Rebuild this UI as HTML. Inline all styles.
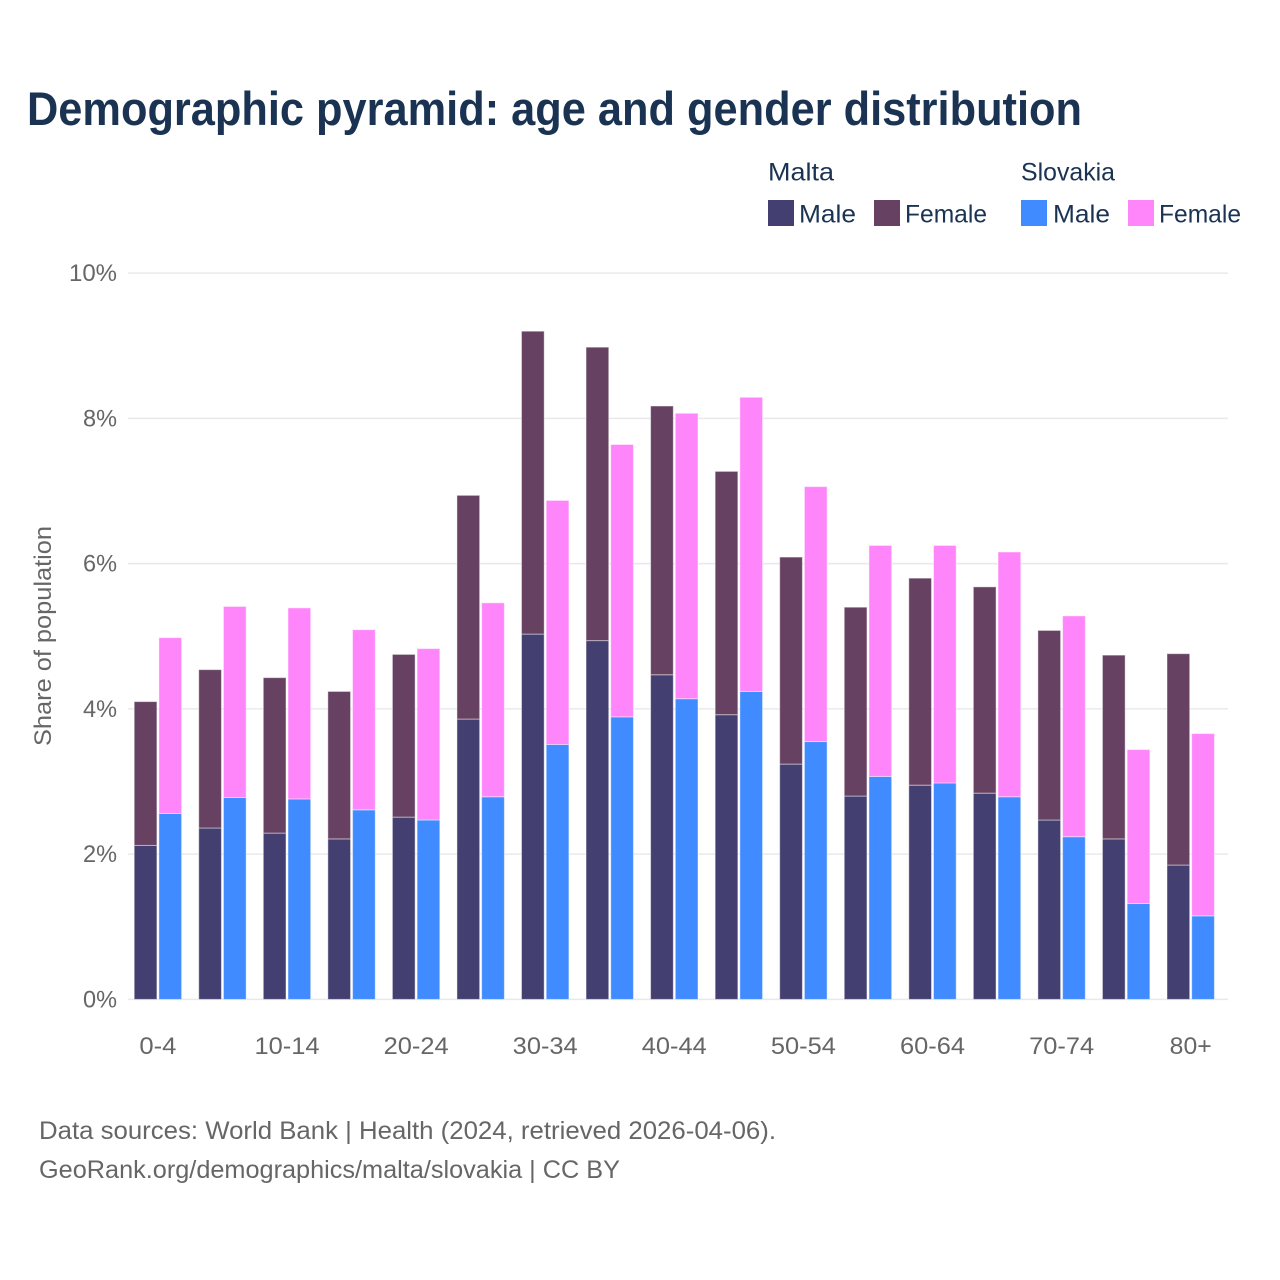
<!DOCTYPE html>
<html lang="en">
<head>
<meta charset="utf-8">
<title>Demographic pyramid: age and gender distribution</title>
<style>
html,body{margin:0;padding:0;background:#fff;}
svg{display:block;font-family:"Liberation Sans",sans-serif;}
</style>
</head>
<body>
<svg id="chart" xmlns="http://www.w3.org/2000/svg" width="1280" height="1280" viewBox="0 0 1280 1280">
  <rect width="1280" height="1280" fill="#ffffff"/>
  <text x="27" y="125" font-size="47" font-weight="700" fill="#1a3352" textLength="1055" lengthAdjust="spacingAndGlyphs">Demographic pyramid: age and gender distribution</text>

  <g font-size="25" fill="#1a3352">
    <text x="768" y="180.5" textLength="66" lengthAdjust="spacingAndGlyphs">Malta</text>
    <text x="1021" y="180.5" textLength="94" lengthAdjust="spacingAndGlyphs">Slovakia</text>
    <rect x="768" y="200" width="26" height="26" fill="#433f70"/>
    <text x="799" y="222.5" textLength="57" lengthAdjust="spacingAndGlyphs">Male</text>
    <rect x="874" y="200" width="26" height="26" fill="#674161"/>
    <text x="905" y="222.5" textLength="82" lengthAdjust="spacingAndGlyphs">Female</text>
    <rect x="1021" y="200" width="26" height="26" fill="#408bff"/>
    <text x="1053" y="222.5" textLength="57" lengthAdjust="spacingAndGlyphs">Male</text>
    <rect x="1128" y="200" width="26" height="26" fill="#ff85fa"/>
    <text x="1159" y="222.5" textLength="82" lengthAdjust="spacingAndGlyphs">Female</text>
  </g>

  <g id="grid"></g>
  <g id="yticks"></g>
  <g id="bars"></g>
  <g id="xticks"></g>

  <text transform="translate(51,746) rotate(-90)" x="0" y="0" font-size="24" fill="#666666" textLength="220" lengthAdjust="spacingAndGlyphs">Share of population</text>

  <text x="39" y="1139" font-size="25" fill="#666666" textLength="737" lengthAdjust="spacingAndGlyphs">Data sources: World Bank | Health (2024, retrieved 2026-04-06).</text>
  <text x="39" y="1178" font-size="25" fill="#666666" textLength="581" lengthAdjust="spacingAndGlyphs">GeoRank.org/demographics/malta/slovakia | CC BY</text>
</svg>
<script>
const categories = ["0-4","5-9","10-14","15-19","20-24","25-29","30-34","35-39","40-44","45-49","50-54","55-59","60-64","65-69","70-74","75-79","80+"];
const xTickLabels = ["0-4","10-14","20-24","30-34","40-44","50-54","60-64","70-74","80+"];
const yTickValues = [0,2,4,6,8,10];
const maltaMale = [2.12,2.36,2.29,2.21,2.51,3.86,5.03,4.94,4.47,3.92,3.24,2.80,2.95,2.84,2.47,2.21,1.85];
const maltaFemale = [1.98,2.18,2.14,2.03,2.24,3.08,4.17,4.04,3.70,3.35,2.85,2.60,2.85,2.84,2.61,2.53,2.91];
const slovakiaMale = [2.56,2.78,2.76,2.61,2.47,2.79,3.51,3.89,4.14,4.24,3.55,3.07,2.98,2.79,2.24,1.32,1.15];
const slovakiaFemale = [2.42,2.63,2.63,2.48,2.36,2.67,3.36,3.75,3.93,4.05,3.51,3.18,3.27,3.37,3.04,2.12,2.51];

const SVG_NS = "http://www.w3.org/2000/svg";
const GRAY = "#666666";
const plot = {left:121, right:1228, y0:999.4, pxPerUnit:72.63, firstCenter:157.9, step:64.55, barW:22.7, gap:1};
function yScale(v){ return plot.y0 - v * plot.pxPerUnit; }
function xCenter(i){ return plot.firstCenter + i * plot.step; }
function labelWidth(s){
  let w = 0;
  for (const c of s) { w += c === "%" ? 20 : c === "-" ? 9 : 14; }
  return w;
}
function make(tag, parent){
  const el = document.createElementNS(SVG_NS, tag);
  parent.appendChild(el);
  return el;
}
function segment(parent, x, base, value, fill){
  const r = make("rect", parent);
  r.setAttribute("x", x);
  r.setAttribute("y", yScale(base + value));
  r.setAttribute("width", plot.barW);
  r.setAttribute("height", yScale(base) - yScale(base + value));
  r.setAttribute("fill", fill);
  r.setAttribute("stroke", "#ffffff");
  r.setAttribute("stroke-opacity", "0.45");
  r.setAttribute("stroke-width", "1");
  return r;
}

const gridG = document.getElementById("grid");
const yG = document.getElementById("yticks");
yTickValues.forEach(function(v){
  const l = make("line", gridG);
  
  
  l.setAttribute("x1", plot.left + 7);
  l.setAttribute("x2", plot.right);
  l.setAttribute("y1", yScale(v));
  l.setAttribute("y2", yScale(v));
  l.setAttribute("stroke", "#e9e9ec");
  l.setAttribute("stroke-width", "1.5");
  const t = make("text", yG);
  
  
  const s = v + "%";
  const w = labelWidth(s);
  t.setAttribute("x", 117 - w);
  t.setAttribute("y", yScale(v) + 8);
  t.setAttribute("font-size", "24");
  t.setAttribute("fill", GRAY);
  t.setAttribute("textLength", w);
  t.setAttribute("lengthAdjust", "spacingAndGlyphs");
  t.textContent = s;
});

const barsG = document.getElementById("bars");
categories.forEach(function(cat, i){
  const c = xCenter(i);
  const mx = c - plot.gap - plot.barW;
  const sx = c + plot.gap;
  const a = segment(barsG, mx, 0, maltaMale[i], "#433f70");
  
  
  const b = segment(barsG, mx, maltaMale[i], maltaFemale[i], "#674161");
  
  
  const d = segment(barsG, sx, 0, slovakiaMale[i], "#408bff");
  
  
  const e = segment(barsG, sx, slovakiaMale[i], slovakiaFemale[i], "#ff85fa");
  
  
});

const xG = document.getElementById("xticks");
xTickLabels.forEach(function(label){
  const i = categories.indexOf(label);
  const w = labelWidth(label);
  const t = make("text", xG);
  
  
  t.setAttribute("x", xCenter(i) - w / 2);
  t.setAttribute("y", 1054);
  t.setAttribute("font-size", "24");
  t.setAttribute("fill", GRAY);
  t.setAttribute("textLength", w);
  t.setAttribute("lengthAdjust", "spacingAndGlyphs");
  t.textContent = label;
});
</script>
</body>
</html>
